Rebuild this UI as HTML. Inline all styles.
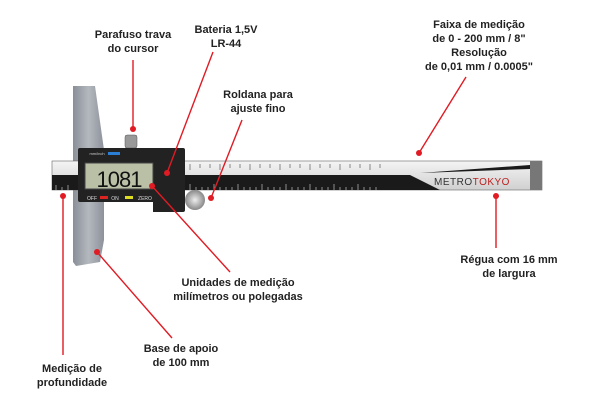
<!DOCTYPE html>
<html><head><meta charset="utf-8"><style>
html,body{margin:0;padding:0;background:#fff;width:609px;height:406px;overflow:hidden}
svg{display:block}
text{font-family:"Liberation Sans",sans-serif;font-weight:bold;font-size:11px;fill:#222;text-anchor:middle}
</style></head><body>
<svg width="609" height="406" viewBox="0 0 609 406">
<defs>
<linearGradient id="plate" x1="0" x2="1"><stop offset="0" stop-color="#8a8e96"/><stop offset="0.5" stop-color="#b4b8bf"/><stop offset="1" stop-color="#8d9199"/></linearGradient>
<linearGradient id="ruler" x1="0" y1="0" x2="0" y2="1"><stop offset="0" stop-color="#f4f4f4"/><stop offset="1" stop-color="#d0d0d0"/></linearGradient>
<radialGradient id="knob"><stop offset="0" stop-color="#eee"/><stop offset="1" stop-color="#888"/></radialGradient>
</defs>
<polygon points="73,86 95,86 104,150 104,240 100,262 76,266 73,262" fill="url(#plate)"/>
<rect x="52" y="161" width="490" height="29" fill="url(#ruler)" stroke="#666" stroke-width="0.6"/>
<rect x="52" y="175" width="340" height="15" fill="#1a1a1a"/>
<polygon points="392,175 410,175 440,190 392,190" fill="#1a1a1a"/>
<polygon points="420,173 530,165 530,169" fill="#1a1a1a"/>
<rect x="530" y="161" width="12" height="29" fill="#777"/>
<g stroke="#444" stroke-width="0.6">
<path d="M190 164v6M200 164v4M210 164v4M220 164v6M230 164v4M240 164v4M250 164v6M260 164v4M270 164v4M280 164v6M290 164v4M300 164v4M310 164v6M320 164v4M330 164v4M340 164v6M350 164v4M360 164v4M370 164v6M380 164v4"/>
</g>
<g stroke="#ddd" stroke-width="0.6">
<path d="M190 190v-6M196 190v-3M202 190v-3M208 190v-3M214 190v-6M220 190v-3M226 190v-3M232 190v-3M238 190v-6M244 190v-3M250 190v-3M256 190v-3M262 190v-6M268 190v-3M274 190v-3M280 190v-3M286 190v-6M292 190v-3M298 190v-3M304 190v-3M310 190v-6M316 190v-3M322 190v-3M328 190v-3M334 190v-6M340 190v-3M346 190v-3M352 190v-3M358 190v-6M364 190v-3M370 190v-3M376 190v-3M56 190v-5M62 190v-3M68 190v-5"/>
</g>
<text x="472" y="185" style="font-size:10px;fill:#333;font-weight:normal;letter-spacing:0.5px">METRO<tspan fill="#b22">TOKYO</tspan></text>
<rect x="125" y="135" width="12" height="13" rx="2" fill="#999" stroke="#555" stroke-width="0.5"/>
<path d="M78 150q0-2 2-2h103q2 0 2 2v60q0 2-2 2h-30v-10h-73q-2 0-2-2z" fill="#222"/>
<rect x="85" y="163" width="68" height="26" fill="#b9c0a6" stroke="#444"/>
<text x="119" y="187" style="font-size:22px;font-weight:normal;fill:#111;font-family:'Liberation Sans',sans-serif;letter-spacing:-1px">1081</text>
<rect x="108" y="152" width="12" height="3" fill="#2a7fd4"/>
<text x="97" y="155" style="font-size:4px;fill:#ccc;font-weight:normal">mm/inch</text>
<text x="92" y="200" style="font-size:5px;fill:#ddd;font-weight:normal">OFF</text>
<rect x="100" y="196" width="8" height="3" fill="#d22"/>
<text x="115" y="200" style="font-size:5px;fill:#ddd;font-weight:normal">ON</text>
<rect x="125" y="196" width="8" height="3" fill="#dd2"/>
<text x="145" y="200" style="font-size:5px;fill:#ddd;font-weight:normal">ZERO</text>
<circle cx="195" cy="200" r="10" fill="url(#knob)"/>
<g stroke="#e01b24" stroke-width="1.4" fill="none">
<line x1="133" y1="60" x2="133" y2="128"/>
<line x1="213" y1="52" x2="167" y2="173"/>
<line x1="242" y1="120" x2="211" y2="198"/>
<line x1="466" y1="77" x2="419" y2="153"/>
<line x1="496" y1="196" x2="496" y2="248"/>
<line x1="230" y1="272" x2="152" y2="186"/>
<line x1="172" y1="338" x2="97" y2="252"/>
<line x1="63" y1="196" x2="63" y2="355"/>
</g>
<g fill="#e01b24">
<circle cx="133" cy="129" r="3"/><circle cx="167" cy="173" r="3"/><circle cx="211" cy="198" r="3"/>
<circle cx="419" cy="153" r="3"/><circle cx="496" cy="196" r="3"/><circle cx="152" cy="186" r="3"/>
<circle cx="97" cy="252" r="3"/><circle cx="63" cy="196" r="3"/>
</g>
<text x="133" y="38">Parafuso trava</text><text x="133" y="52">do cursor</text>
<text x="226" y="33">Bateria 1,5V</text><text x="226" y="47">LR-44</text>
<text x="258" y="98">Roldana para</text><text x="258" y="112">ajuste fino</text>
<text x="479" y="28">Faixa de medição</text><text x="479" y="42">de 0 - 200 mm / 8"</text>
<text x="479" y="56">Resolução</text><text x="479" y="70">de 0,01 mm / 0.0005"</text>
<text x="509" y="263">Régua com 16 mm</text><text x="509" y="277">de largura</text>
<text x="238" y="286">Unidades de medição</text><text x="238" y="300">milímetros ou polegadas</text>
<text x="181" y="352">Base de apoio</text><text x="181" y="366">de 100 mm</text>
<text x="72" y="372">Medição de</text><text x="72" y="386">profundidade</text>
</svg>
</body></html>
